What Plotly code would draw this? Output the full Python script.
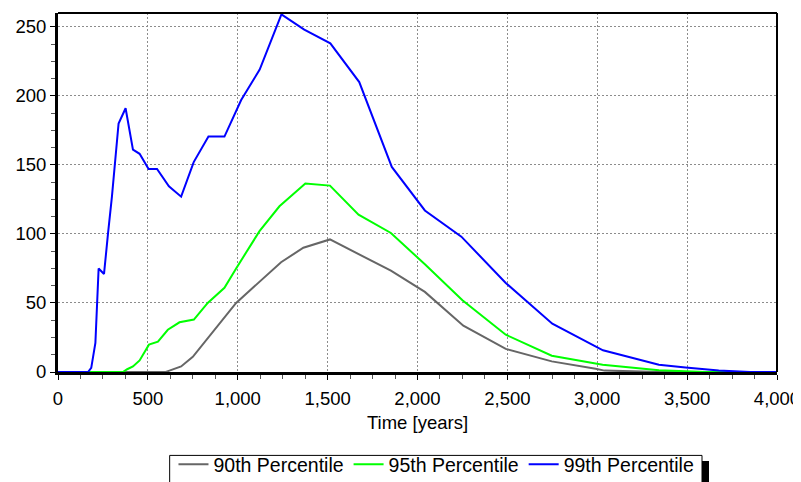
import plotly.graph_objects as go

# ---- data ----
time_p90 = [0, 600, 620, 685, 750, 991, 1241, 1365, 1513, 1667, 1852, 2041, 2255, 2491, 2747, 2991, 3040, 3350, 4000]
p90 = [0, 0, 1, 4, 11, 50, 79.5, 90, 96, 85.5, 73.4, 58, 33.5, 16.7, 7.7, 2.4, 1.0, 0, 0]

time_p95 = [0, 361, 385, 417, 454, 506, 556, 611, 676, 756, 833, 926, 991, 1121, 1232, 1376, 1513, 1672,
            1852, 2041, 2250, 2491, 2747, 3030, 3343, 3600, 4000]
p95 = [0, 0, 2, 4, 8.4, 19.8, 22, 30.6, 36, 38, 50, 61, 75, 102, 120, 136.5, 135, 114,
       100.7, 78, 52, 27, 11.8, 5.3, 1.2, 0, 0]

time_p99 = [0, 167, 185, 208, 226, 256, 278, 300, 337, 376, 417, 454, 504, 551, 617, 685, 755, 837, 926,
            1019, 1122, 1243, 1370, 1515, 1676, 1857, 2041, 2244, 2491, 2750, 3032, 3343, 3491, 3676, 3850, 4000]
p99 = [0, 0, 3, 21, 75, 71, 100, 127, 180, 191, 161, 158, 147, 147, 134.5, 127, 152, 170.5, 170.5,
       197, 219, 259, 248, 238, 210, 148.5, 117, 98, 64.5, 35, 15.7, 5.3, 3.3, 1.0, 0, 0]

series_names = ["90th Percentile", "95th Percentile", "99th Percentile"]
series_colors = ["#666666", "#00ff00", "#0000ff"]

x_title = "Time [years]"

fig = go.Figure()
for xs, ys, name, col in zip([time_p90, time_p95, time_p99], [p90, p95, p99], series_names, series_colors):
    fig.add_trace(go.Scatter(x=xs, y=ys, mode="lines", name=name,
                             line=dict(color=col, width=2)))

font_family = "Liberation Sans, Arial, sans-serif"
FS = 18.5

# the page body adds an 8px offset, so margins are reduced accordingly
fig.update_layout(
    width=801, height=482,
    margin=dict(l=50, r=32, t=5, b=118, autoexpand=False),
    paper_bgcolor="white", plot_bgcolor="white",
    font=dict(family=font_family, size=FS, color="black"),
    separators=".,",
    showlegend=True,
    legend=dict(
        orientation="h", x=0.5264, xanchor="center", y=-0.2037, yanchor="top",
        borderwidth=0, bgcolor="rgba(0,0,0,0)",
        font=dict(family=font_family, size=19.5, color="black"),
        itemwidth=30,
        tracegroupgap=0,
    ),
    xaxis=dict(
        range=[0, 4000], dtick=500, tickformat=",d",
        showgrid=True, gridcolor="#8c8c8c", griddash="2px,2px", gridwidth=1,
        showline=True, linecolor="black", linewidth=3,
        ticks="outside", ticklen=5, tickcolor="black", tickwidth=1,
        minor=dict(dtick=125, ticks="outside", ticklen=4, tickcolor="#555555", showgrid=False),
        zeroline=False, automargin=False,
        ticklabelstandoff=3,
        title=dict(text=x_title, font=dict(size=FS), standoff=8),
        tickfont=dict(size=FS),
    ),
    yaxis=dict(
        range=[0, 260], dtick=50,
        showgrid=True, gridcolor="#8c8c8c", griddash="2px,2px", gridwidth=1,
        showline=True, linecolor="black", linewidth=3,
        ticks="outside", ticklen=5, tickcolor="black", tickwidth=1,
        minor=dict(dtick=12.5, ticks="outside", ticklen=4, tickcolor="#555555", showgrid=False),
        zeroline=False, automargin=False,
        tickfont=dict(size=FS),
    ),
    shapes=[
        dict(type="line", xref="paper", yref="paper", x0=0, x1=1, y0=1, y1=1,
             line=dict(color="black", width=2)),
        dict(type="line", xref="paper", yref="paper", x0=1, x1=1, y0=0, y1=1,
             line=dict(color="black", width=2)),
        # legend frame and its shadow
        dict(type="rect", xref="paper", yref="paper", x0=0.1553, x1=0.8957, y0=-0.2323, y1=-0.36,
             line=dict(color="black", width=1), fillcolor="white"),
        dict(type="rect", xref="paper", yref="paper", x0=0.8957, x1=0.9054, y0=-0.2479, y1=-0.36,
             line=dict(width=0), fillcolor="black"),
    ],
)

fig.write_html("out.html")
